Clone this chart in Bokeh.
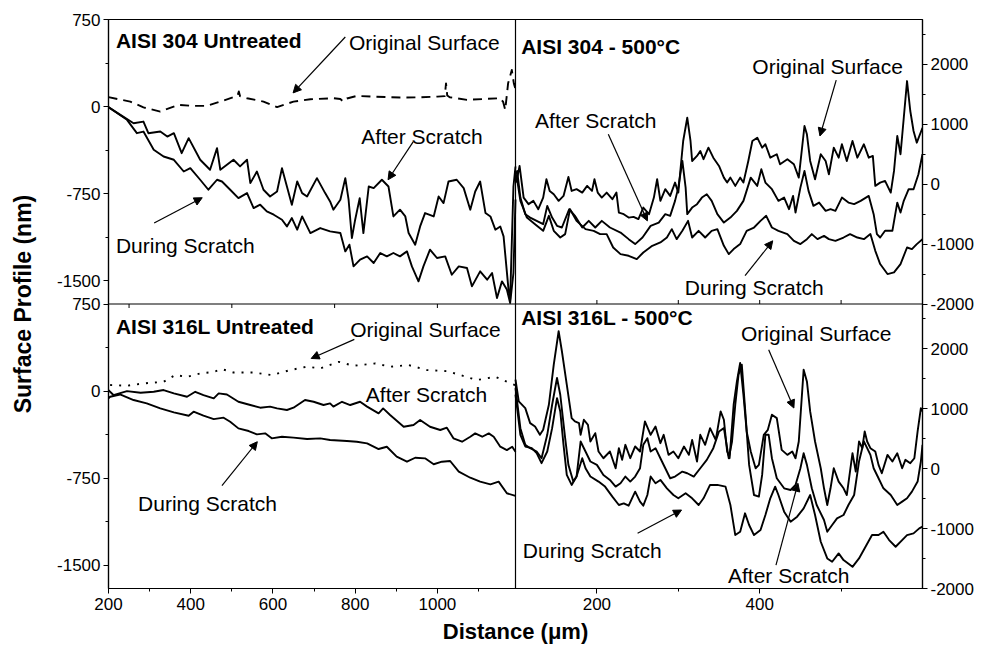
import numpy as np
from bokeh.plotting import figure
from bokeh.models import Range1d, LinearAxis, FixedTicker, Span, Label, Arrow, NormalHead
from bokeh.embed import file_html
from bokeh.resources import INLINE

# ---------------- panel limits & ticks ----------------
LEFT_X = (200, 1190)
RIGHT_X = (100, 600)
LEFT_Y = (-1700, 750)
RIGHT_Y = (-2000, 2750)

LEFT_Y_TICKS = [750, 0, -750, -1500]
LEFT_Y_MINOR = [375, -375, -1125]
RIGHT_Y_TICKS = [2000, 1000, 0, -1000, -2000]
RIGHT_Y_MINOR = [2500, 1500, 500, -500, -1500]
LEFT_X_TICKS = [200, 400, 600, 800, 1000]
LEFT_X_MINOR = [300, 500, 700, 900, 1100]
RIGHT_X_TICKS = [200, 400]
RIGHT_X_MINOR = [300, 500]
LEFT_MID_TICKS = [250, 500, 750, 1000]
RIGHT_MID_TICKS = [200, 300, 400, 500]

# ---------------- AISI 304 Untreated (top-left) ----------------
TL_ORIG_X = [200, 253, 285, 326, 370, 406, 439, 472, 504, 514, 517, 520, 537, 577, 610, 650, 691, 747, 764, 771,
             780, 804, 850, 909, 960, 1000, 1018, 1021, 1024, 1030, 1050, 1072, 1110, 1153, 1160, 1165, 1172, 1181, 1186, 1190]
TL_ORIG_Y = [81, 43, -7, -43, 15, 6, 6, 43, 81, 95, 130, 90, 72, 43, -5, 43, 63, 72, 65, 43,
             70, 92, 85, 78, 80, 86, 90, 200, 95, 80, 70, 58, 65, 72, 40, -28, 200, 315, 200, 150]
TL_AFTER_X = [200, 229, 261, 285, 297, 326, 343, 359, 378, 395, 423, 447, 464, 472, 504, 520, 537, 545, 561, 577,
              593, 610, 622, 634, 646, 659, 671, 683, 707, 727, 739, 747, 764, 776, 784, 792, 800, 811, 820, 833,
              845, 865, 881, 893, 909, 922, 930, 946, 958, 970, 991, 1003, 1015, 1027, 1047, 1064, 1080, 1092, 1104, 1117,
              1129, 1141, 1153, 1161, 1173, 1177, 1185, 1190]
TL_AFTER_Y = [-5, -71, -143, -129, -229, -215, -258, -229, -401, -272, -458, -544, -358, -544, -458, -515, -458, -659, -559, -716,
              -774, -731, -530, -688, -845, -645, -745, -774, -616, -745, -817, -888, -802, -616, -802, -1132, -974, -788, -1089, -688,
              -702, -630, -688, -946, -888, -946, -1089, -1189, -1032, -917, -946, -774, -831, -645, -630, -702, -888, -731, -645, -917,
              -946, -1060, -1032, -1118, -1576, -1662, -688, -516]
TL_DURING_X = [200, 245, 269, 285, 310, 334, 359, 383, 399, 423, 443, 464, 476, 496, 516, 537, 553, 569, 585, 602,
               622, 634, 646, 659, 671, 691, 715, 739, 764, 776, 786, 796, 812, 829, 845, 861, 877, 893, 909, 926,
               938, 954, 966, 982, 999, 1019, 1035, 1052, 1072, 1084, 1104, 1121, 1133, 1145, 1157, 1169, 1177, 1185, 1190]
TL_DURING_Y = [-5, -114, -229, -215, -372, -430, -458, -559, -530, -630, -716, -630, -645, -716, -788, -745, -874, -845, -903, -931,
               -974, -1032, -960, -1060, -946, -1089, -1046, -1075, -1089, -1247, -1189, -1376, -1318, -1290, -1347, -1261, -1290, -1261, -1290, -1247,
               -1376, -1505, -1376, -1232, -1304, -1290, -1448, -1376, -1390, -1548, -1419, -1491, -1433, -1648, -1505, -1576, -1691, -1433, -800]

# ---------------- AISI 304 - 500°C (top-right) ----------------
TR_ORIG_X = [101, 105, 110, 116, 122, 128, 134, 138, 142, 147, 153, 159, 165, 169, 175, 182, 188, 194, 197, 201,
             206, 212, 219, 224, 227, 233, 239, 245, 251, 257, 264, 270, 274, 278, 284, 290, 296, 300, 306, 311,
             315, 317, 323, 327, 331, 337, 343, 350, 356, 360, 364, 370, 376, 380, 386, 391, 397, 403, 407, 413,
             421, 425, 434, 442, 448, 455, 458, 462, 468, 475, 481, 485, 491, 497, 501, 507, 514, 520, 528, 534,
             539, 542, 548, 554, 561, 565, 569, 573, 577, 581, 585, 589, 593, 600]
TR_ORIG_Y = [27, 305, -223, -333, -278, -417, -223, 83, -112, -167, -278, -195, 122, -112, -83, -140, -28, -112, 83, -140,
             -223, -140, -250, -140, -473, -500, -557, -545, -583, -390, -500, -223, 83, -278, -83, -195, 27, -140, 722, 1110,
             722, 388, 472, 555, 417, 610, 443, 305, 110, 27, 110, -28, 110, 27, 388, 722, 777, 610, 667, 443,
             500, 333, 417, 333, 110, 972, 833, 388, 83, 500, 388, 167, 610, 443, 667, 388, 722, 443, 667, 443,
             472, -28, 27, 55, -140, 222, 805, 500, 1110, 1722, 1222, 888, 693, 943]
TR_AFTER_X = [101, 102, 106, 112, 118, 126, 134, 139, 145, 151, 157, 166, 173, 182, 190, 198, 206, 216, 229, 239,
              247, 256, 266, 276, 284, 290, 296, 300, 305, 309, 311, 317, 323, 329, 335, 341, 348, 356, 364, 372,
              380, 389, 397, 402, 407, 415, 423, 430, 436, 441, 444, 450, 455, 460, 466, 473, 481, 487, 493, 501,
              509, 516, 524, 534, 540, 544, 548, 554, 563, 569, 573, 577, 583, 589, 595, 600]
TR_AFTER_Y = [167, 222, -223, -500, -557, -612, -667, -362, -557, -695, -723, -417, -528, -723, -612, -723, -612, -723, -807, -917,
              -1000, -890, -695, -640, -500, -528, -278, -57, 388, -57, -500, -390, -333, -223, -167, -278, -500, -640, -557, -445,
              -278, 110, -28, 250, 27, -83, -278, -223, -417, -195, -473, -57, 222, -112, -362, -307, -445, -417, -445, -223,
              -307, -333, -278, -195, -500, -833, -890, -778, -778, -307, -473, -278, -83, -83, 167, 500]
TR_DURING_X = [101, 106, 114, 124, 134, 141, 147, 155, 161, 167, 175, 186, 196, 204, 212, 220, 229, 239, 249, 257,
               268, 278, 286, 292, 298, 305, 312, 317, 325, 333, 341, 348, 356, 362, 368, 376, 384, 393, 401, 408,
               415, 423, 434, 442, 450, 458, 464, 471, 479, 485, 493, 503, 511, 520, 528, 536, 542, 548, 557, 565,
               573, 581, 587, 593, 600]
TR_DURING_Y = [167, -278, -557, -667, -778, -528, -778, -890, -833, -417, -612, -750, -778, -833, -833, -1057, -1167, -1195, -1250, -1140,
               -1028, -973, -890, -750, -917, -778, -612, -890, -778, -890, -778, -750, -1028, -1167, -1083, -1000, -778, -723, -612, -528,
               -723, -778, -833, -945, -1000, -917, -833, -917, -862, -917, -945, -890, -833, -890, -917, -833, -1112, -1333, -1500, -1473,
               -1333, -1057, -1083, -1000, -917]

# ---------------- AISI 316L Untreated (bottom-left) ----------------
BL_ORIG_X = [204, 245, 285, 334, 362, 391, 423, 456, 476, 504, 553, 597, 642, 683, 715, 760, 796, 849, 885, 930,
             975, 1023, 1056, 1096, 1141, 1169, 1189]
BL_ORIG_Y = [52, 46, 66, 80, 138, 123, 152, 166, 189, 160, 160, 138, 181, 210, 195, 252, 218, 238, 210, 224,
             181, 172, 138, 95, 123, 80, 52]
BL_AFTER_X = [200, 212, 245, 278, 310, 334, 359, 391, 411, 431, 456, 468, 488, 516, 545, 569, 593, 610, 634, 650,
              678, 699, 723, 739, 747, 768, 788, 812, 829, 857, 868, 885, 918, 942, 958, 982, 1007, 1023, 1039, 1060,
              1080, 1092, 1109, 1125, 1137, 1153, 1169, 1182, 1190]
BL_AFTER_Y = [9, -34, 0, -14, -6, 9, -20, -49, -6, -34, -63, -20, -29, -92, -120, -143, -134, -149, -163, -143,
              -77, -92, -120, -106, -134, -92, -120, -92, -134, -192, -149, -206, -307, -292, -249, -307, -335, -315, -407, -436,
              -393, -364, -393, -364, -393, -479, -508, -479, -522]
BL_DURING_X = [200, 204, 228, 261, 293, 326, 359, 395, 407, 431, 456, 480, 496, 516, 541, 561, 581, 597, 622, 650,
               683, 715, 739, 780, 804, 829, 857, 877, 901, 926, 946, 970, 991, 1011, 1031, 1052, 1080, 1104, 1129, 1149,
               1169, 1190]
BL_DURING_Y = [-63, -49, -29, -77, -106, -149, -183, -212, -177, -212, -241, -229, -264, -321, -344, -373, -364, -407, -393, -401,
               -413, -407, -421, -430, -436, -450, -499, -479, -565, -608, -574, -579, -630, -608, -602, -694, -746, -780, -803, -780,
               -880, -903]

# ---------------- AISI 316L - 500°C (bottom-right) ----------------
BR_ORIG_X = [100, 104, 112, 118, 124, 130, 134, 141, 147, 153, 157, 163, 169, 173, 178, 180, 184, 189, 192, 198,
             202, 208, 216, 223, 227, 231, 235, 241, 247, 253, 259, 266, 272, 278, 282, 288, 294, 300, 307, 313,
             317, 323, 327, 333, 339, 346, 352, 356, 360, 363, 368, 372, 376, 380, 384, 389, 395, 399, 405, 410,
             415, 421, 427, 434, 440, 444, 448, 454, 458, 462, 468, 475, 479, 483, 487, 491, 497, 503, 507, 514,
             518, 522, 526, 529, 532, 536, 542, 546, 550, 557, 563, 569, 575, 579, 585, 590, 594, 598, 600]
BR_ORIG_Y = [1486, 1124, 1012, 761, 705, 566, 650, 1068, 1737, 2295, 1961, 1403, 845, 789, 761, 566, 817, 733, 454, 594,
             287, 175, 287, 8, 343, 148, 399, 175, 371, 287, 789, 566, 705, 426, 566, 231, 287, 175, 371, 231,
             482, 120, 566, 399, 677, 482, 956, 817, 287, 175, 1068, 1458, 1765, 1235, 622, 287, 8, 64, 566, 650,
             901, 845, 315, 231, 287, 175, 454, 1654, 1458, 956, 454, 8, -327, -606, -327, 8, -215, -327, -439, 259,
             -48, 454, 343, 622, 454, 343, 287, 64, -76, 231, 120, 259, 8, 148, 92, 175, 622, 1012, 956]
BR_AFTER_X = [100, 106, 112, 118, 126, 132, 139, 145, 151, 155, 161, 165, 171, 175, 180, 186, 192, 200, 208, 216,
              223, 229, 235, 241, 247, 253, 257, 262, 266, 272, 278, 284, 290, 296, 305, 311, 319, 327, 335, 343,
              350, 356, 362, 366, 370, 374, 378, 382, 387, 393, 399, 403, 407, 411, 415, 421, 430, 438, 444, 450,
              454, 458, 464, 470, 479, 483, 489, 495, 503, 509, 516, 522, 528, 532, 536, 540, 546, 552, 561, 569,
              575, 581, 587, 594, 598, 600]
BR_AFTER_Y = [1347, 677, 399, 343, 287, 175, 566, 1068, 1514, 1235, 510, 64, -215, -131, 454, 287, 120, 64, -104, -187,
              -299, -243, -131, -215, -131, 8, 399, 510, 287, 343, 175, 8, -159, -131, -48, -76, -131, 8, 148, 343,
              622, 677, 175, 454, 1068, 1570, 1737, 1012, 64, -439, -466, -104, 566, 566, 175, -159, -327, -355, -271, 8,
              259, 64, -327, -606, -857, -1052, -940, -829, -773, -606, -439, 120, 454, 343, 231, 8, -159, -327, -439, -606,
              -550, -494, -383, -215, 120, 399]
BR_DURING_X = [100, 106, 112, 120, 126, 132, 139, 145, 151, 155, 159, 163, 169, 175, 182, 186, 192, 202, 210, 219,
               227, 233, 239, 247, 253, 257, 262, 266, 272, 278, 286, 294, 300, 309, 317, 325, 331, 339, 348, 358,
               364, 370, 376, 382, 387, 393, 401, 407, 413, 419, 423, 430, 438, 446, 454, 462, 468, 475, 483, 489,
               497, 503, 514, 522, 530, 538, 546, 552, 559, 567, 575, 581, 589, 596, 600]
BR_DURING_Y = [1235, 566, 371, 343, 259, 92, 287, 677, 1179, 956, 399, -104, -271, -131, 175, 8, -131, -215, -299, -466,
               -606, -578, -617, -383, -550, -617, -439, -131, -243, -187, -327, -439, -494, -411, -494, -606, -494, -271, -271, -299,
               -606, -1108, -1052, -745, -940, -1108, -1024, -773, -494, -299, -439, -717, -885, -801, -662, -439, -773, -1219, -1498, -1554,
               -1414, -1526, -1638, -1498, -1303, -1108, -1108, -1052, -1191, -1303, -1191, -1108, -1080, -996, -968]

# ---------------- figure ----------------
FONT = "Liberation Sans"
W, H = 989, 649
BL, BR, BT, BB = 108, 67, 19, 61
frame_h = H - BT - BB

p = figure(width=W, height=H, output_backend="svg", toolbar_location=None,
           x_range=Range1d(0, 1), y_range=Range1d(0, 1),
           x_axis_location=None, y_axis_location=None,
           min_border_left=BL, min_border_right=BR, min_border_top=BT, min_border_bottom=BB)
p.grid.visible = False
p.outline_line_color = "black"
p.outline_line_width = 1.2
p.background_fill_color = "white"
p.border_fill_color = "white"

lw = LEFT_X[1] - LEFT_X[0]
rw = RIGHT_X[1] - RIGHT_X[0]
lh = LEFT_Y[1] - LEFT_Y[0]
rh = RIGHT_Y[1] - RIGHT_Y[0]

p.extra_x_ranges = {"xl": Range1d(LEFT_X[0], LEFT_X[1] + lw),
                    "xr": Range1d(RIGHT_X[0] - rw, RIGHT_X[1])}
p.extra_y_ranges = {"ytl": Range1d(LEFT_Y[0] - lh, LEFT_Y[1]),
                    "ybl": Range1d(LEFT_Y[0], LEFT_Y[1] + lh),
                    "ytr": Range1d(RIGHT_Y[0] - rh, RIGHT_Y[1]),
                    "ybr": Range1d(RIGHT_Y[0], RIGHT_Y[1] + rh)}

LW = 1.9
solid = dict(line_color="black", line_width=LW, line_join="round")
p.line(TL_ORIG_X, TL_ORIG_Y, x_range_name="xl", y_range_name="ytl", line_dash="9 6", **solid)
p.line(TL_AFTER_X, TL_AFTER_Y, x_range_name="xl", y_range_name="ytl", **solid)
p.line(TL_DURING_X, TL_DURING_Y, x_range_name="xl", y_range_name="ytl", **solid)
p.line(BL_ORIG_X, BL_ORIG_Y, x_range_name="xl", y_range_name="ybl", line_dash="2 7", **solid)
p.line(BL_AFTER_X, BL_AFTER_Y, x_range_name="xl", y_range_name="ybl", **solid)
p.line(BL_DURING_X, BL_DURING_Y, x_range_name="xl", y_range_name="ybl", **solid)
p.line(TR_ORIG_X, TR_ORIG_Y, x_range_name="xr", y_range_name="ytr", **solid)
p.line(TR_AFTER_X, TR_AFTER_Y, x_range_name="xr", y_range_name="ytr", **solid)
p.line(TR_DURING_X, TR_DURING_Y, x_range_name="xr", y_range_name="ytr", **solid)
p.line(BR_ORIG_X, BR_ORIG_Y, x_range_name="xr", y_range_name="ybr", **solid)
p.line(BR_AFTER_X, BR_AFTER_Y, x_range_name="xr", y_range_name="ybr", **solid)
p.line(BR_DURING_X, BR_DURING_Y, x_range_name="xr", y_range_name="ybr", **solid)

# panel dividers
p.add_layout(Span(location=LEFT_X[1], dimension="height", x_range_name="xl",
                  line_color="black", line_width=1.2))
p.add_layout(Span(location=LEFT_Y[0], dimension="width", y_range_name="ytl",
                  line_color="black", line_width=1.2))

# inner ticks on the dividing line
half_h = frame_h / 2.0
tick_px = 4
n1 = len(LEFT_MID_TICKS)
p.segment(x0=LEFT_MID_TICKS, y0=[LEFT_Y[1]] * n1, x1=LEFT_MID_TICKS,
          y1=[LEFT_Y[1] - tick_px * lh / half_h] * n1,
          x_range_name="xl", y_range_name="ybl", line_color="black", line_width=1)
n2 = len(RIGHT_MID_TICKS)
p.segment(x0=RIGHT_MID_TICKS, y0=[RIGHT_Y[0]] * n2, x1=RIGHT_MID_TICKS,
          y1=[RIGHT_Y[0] + tick_px * rh / half_h] * n2,
          x_range_name="xr", y_range_name="ytr", line_color="black", line_width=1)


def style_axis(ax, standoff):
    ax.axis_line_color = "black"
    ax.axis_line_width = 1.2
    ax.major_tick_line_color = "black"
    ax.minor_tick_line_color = "black"
    ax.major_tick_in = 0
    ax.major_tick_out = 5
    ax.minor_tick_in = 0
    ax.minor_tick_out = 3
    ax.major_label_text_font = FONT
    ax.major_label_text_font_size = "17px"
    ax.major_label_text_color = "black"
    ax.major_label_standoff = standoff
    ax.axis_label_text_font = FONT
    ax.axis_label_text_font_style = "bold"
    ax.axis_label_text_color = "black"


# left axis: both left panels share the left edge
lt = LEFT_Y_TICKS + [t - lh for t in LEFT_Y_TICKS]
lm = LEFT_Y_MINOR + [t - lh for t in LEFT_Y_MINOR]
llab = {t: str(t) for t in LEFT_Y_TICKS}
llab.update({t - lh: str(t) for t in LEFT_Y_TICKS})
yax = LinearAxis(y_range_name="ytl", ticker=FixedTicker(ticks=lt, minor_ticks=lm),
                 major_label_overrides=llab, axis_label="Surface Profile (nm)")
style_axis(yax, 3)
yax.axis_label_text_font_size = "23px"
yax.axis_label_standoff = 18
p.add_layout(yax, "left")

# right axis: both right panels
rt = RIGHT_Y_TICKS + [t - rh for t in RIGHT_Y_TICKS]
rm = RIGHT_Y_MINOR + [t - rh for t in RIGHT_Y_MINOR]
rlab = {t: str(t) for t in RIGHT_Y_TICKS}
rlab.update({t - rh: str(t) for t in RIGHT_Y_TICKS})
ryax = LinearAxis(y_range_name="ytr", ticker=FixedTicker(ticks=rt, minor_ticks=rm),
                  major_label_overrides=rlab)
style_axis(ryax, 3)
p.add_layout(ryax, "right")


# bottom axis: both bottom panels
def r2l(v):
    return LEFT_X[1] + (v - RIGHT_X[0]) * lw / rw


bt = LEFT_X_TICKS + [r2l(t) for t in RIGHT_X_TICKS]
bm = LEFT_X_MINOR + [r2l(t) for t in RIGHT_X_MINOR]
blab = {t: str(t) for t in LEFT_X_TICKS}
blab.update({r2l(t): str(t) for t in RIGHT_X_TICKS})
xax = LinearAxis(x_range_name="xl", ticker=FixedTicker(ticks=bt, minor_ticks=bm),
                 major_label_overrides=blab, axis_label="Distance (μm)")
style_axis(xax, 4)
xax.axis_label_text_font_size = "22px"
xax.axis_label_standoff = 6
p.add_layout(xax, "below")


def add_text(txt, x, y, xr, yr, bold=False, size="21px"):
    p.add_layout(Label(x=x, y=y, x_range_name=xr, y_range_name=yr, text=txt,
                       text_font=FONT, text_font_size=size,
                       text_font_style="bold" if bold else "normal",
                       text_baseline="middle", text_align="left", text_color="black"))


def add_arrow(x0, y0, x1, y1, xr, yr):
    p.add_layout(Arrow(x_start=x0, y_start=y0, x_end=x1, y_end=y1,
                       x_range_name=xr, y_range_name=yr,
                       line_color="black", line_width=1.2,
                       end=NormalHead(size=8, fill_color="black", line_color="black", line_width=1)))


# top-left
add_text("AISI 304  Untreated", 218, 567, "xl", "ytl", bold=True)
add_text("Original Surface", 785, 548, "xl", "ytl")
add_arrow(776, 599, 649, 118, "xl", "ytl")
add_text("After Scratch", 815, -260, "xl", "ytl")
add_arrow(941, -304, 880, -630, "xl", "ytl")
add_text("During Scratch", 218, -1198, "xl", "ytl")
add_arrow(311, -1002, 428, -785, "xl", "ytl")

# top-right
add_text("AISI 304  - 500°C", 107, 2305, "xr", "ytr", bold=True)
add_text("Original Surface", 391, 1960, "xr", "ytr")
add_arrow(494, 1738, 474, 805, "xr", "ytr")
add_text("After Scratch", 124, 1072, "xr", "ytr")
add_arrow(214, 833, 262, -612, "xr", "ytr")
add_text("During Scratch", 308, -1723, "xr", "ytr")
add_arrow(382, -1528, 416, -945, "xr", "ytr")

# bottom-left
add_text("AISI 316L Untreated", 218, 553, "xl", "ybl", bold=True)
add_text("Original Surface", 788, 530, "xl", "ybl")
add_arrow(798, 445, 693, 281, "xl", "ybl")
add_text("After Scratch", 826, -28, "xl", "ybl")
add_text("During Scratch", 272, -966, "xl", "ybl")
add_arrow(476, -814, 562, -436, "xl", "ybl")

# bottom-right
add_text("AISI 316L - 500°C", 107, 2519, "xr", "ybr", bold=True)
add_text("Original Surface", 377, 2256, "xr", "ybr")
add_arrow(411, 1988, 442, 1013, "xr", "ybr")
add_text("During Scratch", 109, -1359, "xr", "ybr")
add_arrow(250, -1079, 304, -690, "xr", "ybr")
add_text("After Scratch", 361, -1777, "xr", "ybr")
add_arrow(420, -1610, 447, -243, "xr", "ybr")

open("out.html", "w").write(file_html(p, INLINE))
